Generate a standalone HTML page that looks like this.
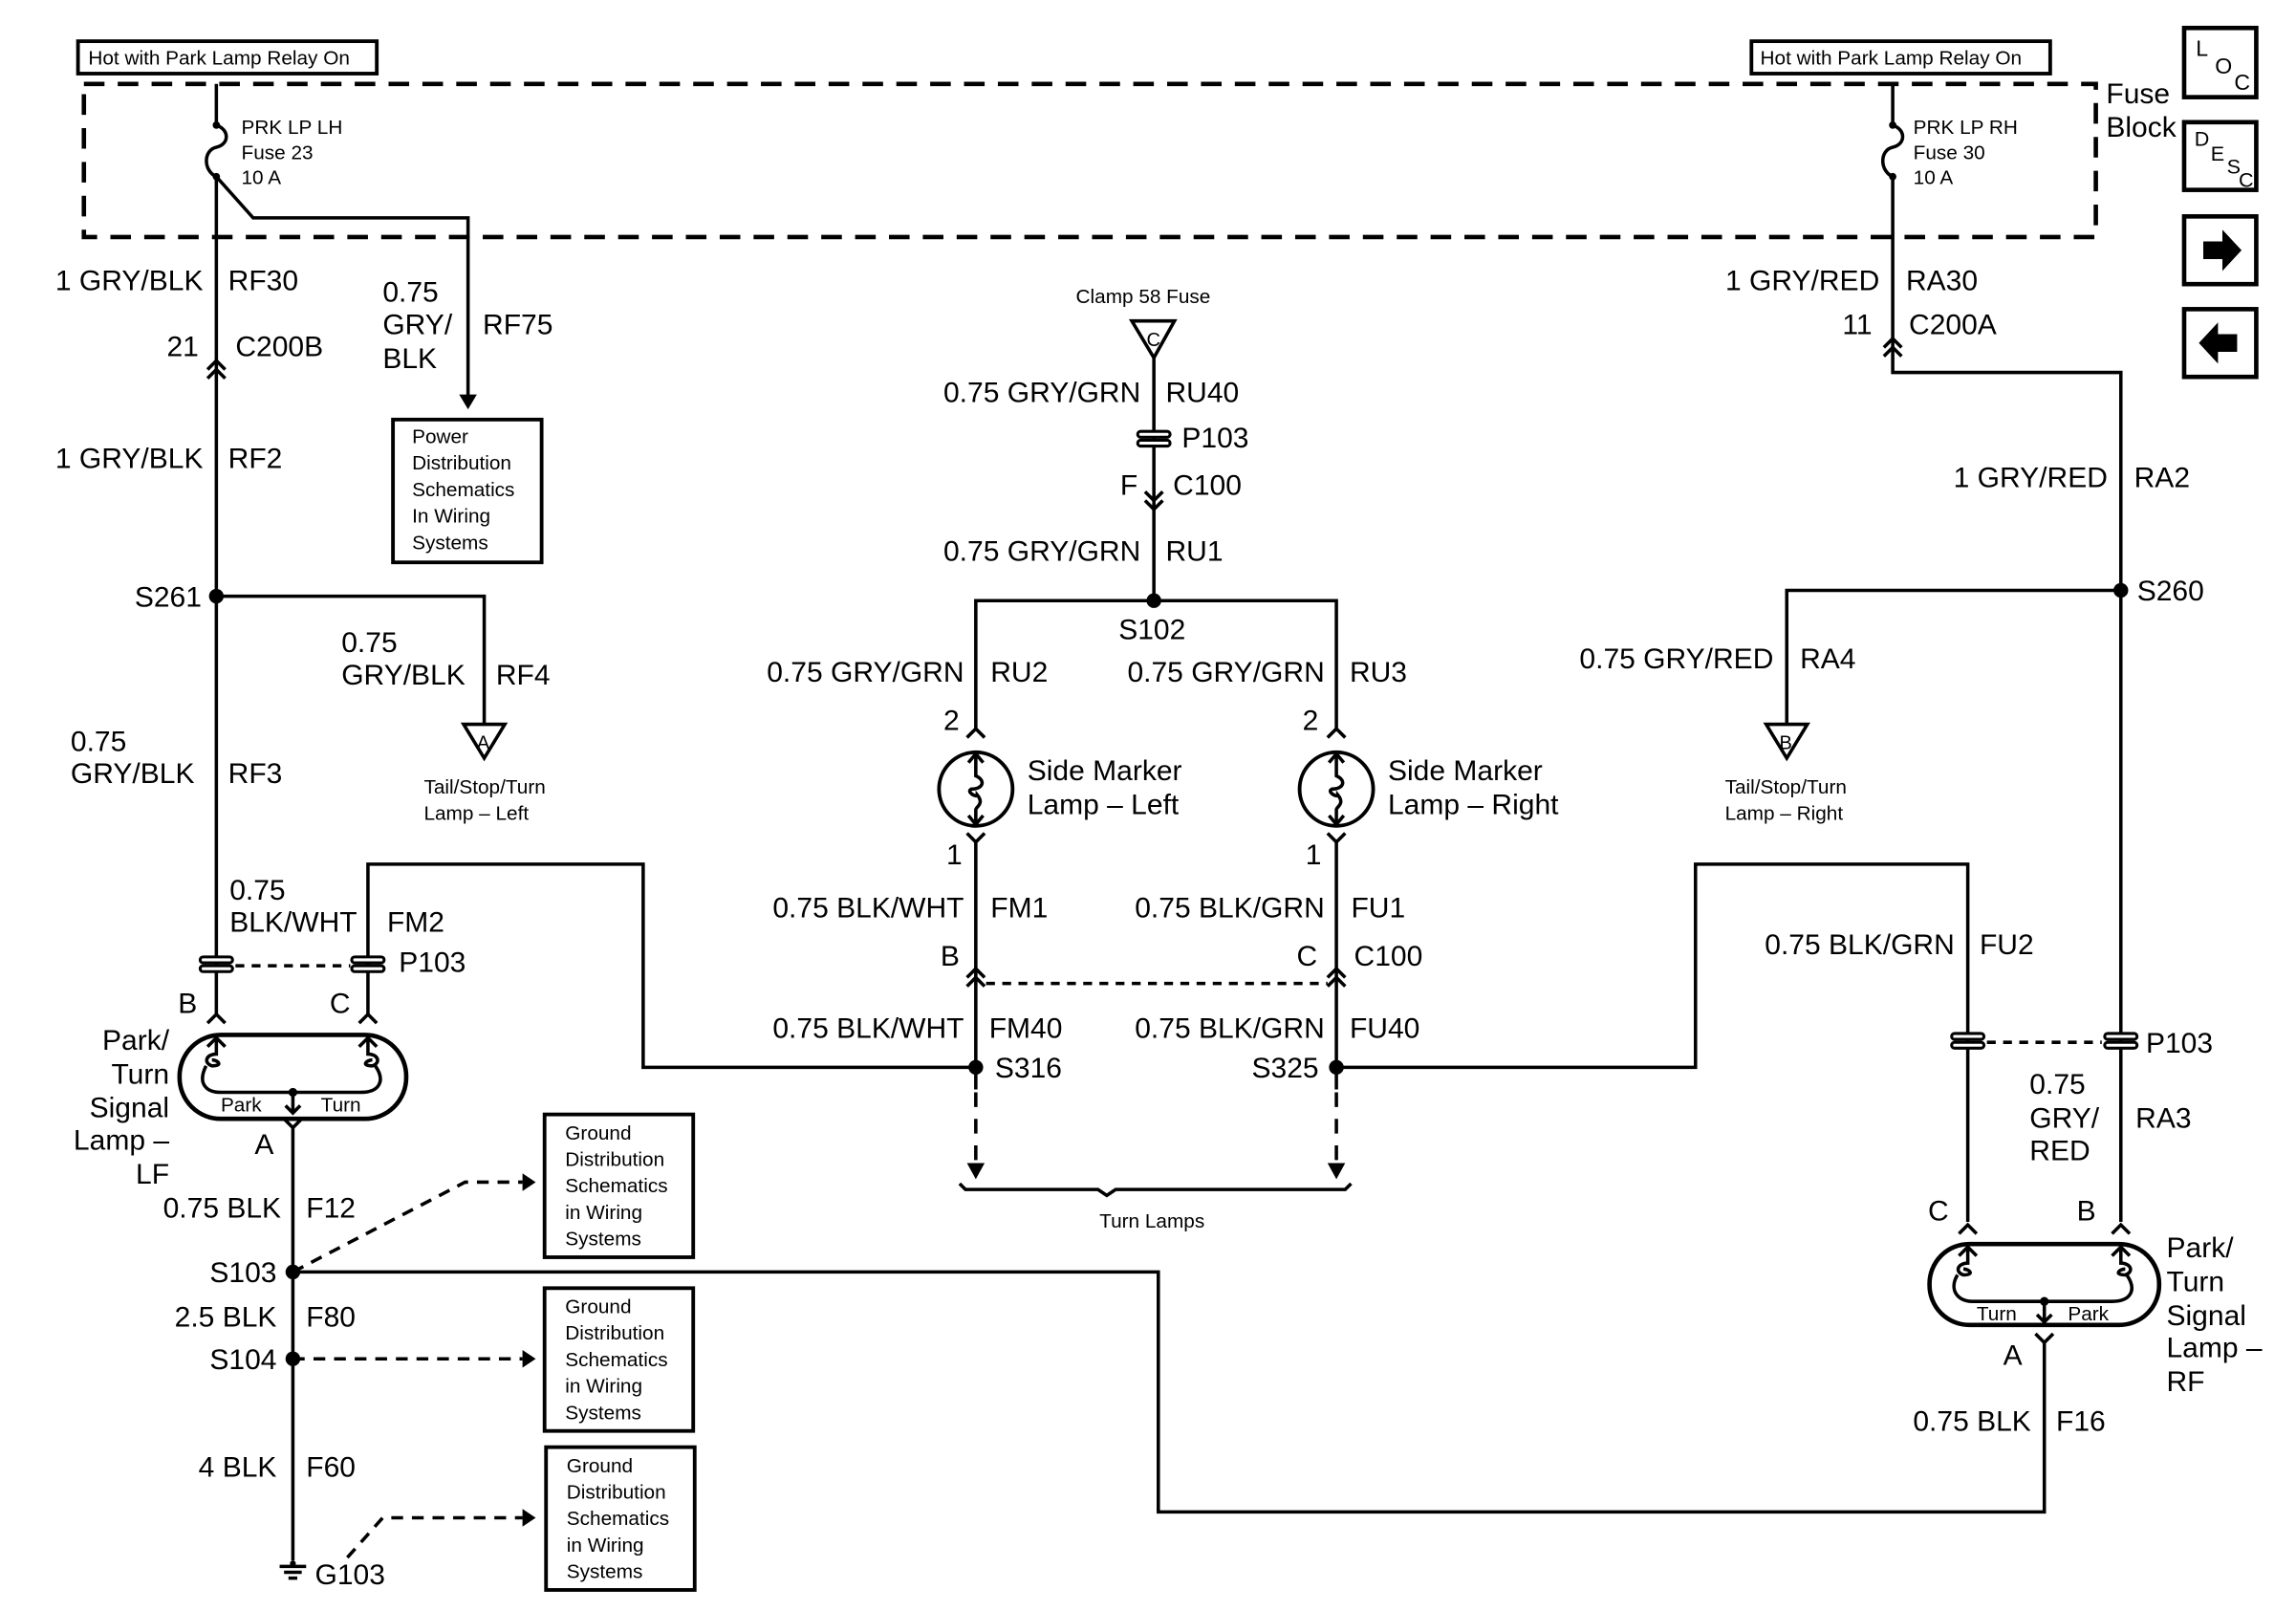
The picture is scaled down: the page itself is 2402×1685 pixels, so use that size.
<!DOCTYPE html>
<html><head><meta charset="utf-8"><style>
html,body{margin:0;padding:0;background:#fff;}
svg{display:block;}
text{font-family:"Liberation Sans",Arial,sans-serif;fill:#000;}
.b{font-size:19.5px;}
.s{font-size:13.5px;}
.r{text-anchor:end;}
</style></head><body>
<svg width="2402" height="1685" viewBox="0 0 1560 1094.3" preserveAspectRatio="none" xmlns="http://www.w3.org/2000/svg">
<g fill="none" stroke="#000" stroke-width="2.3">
<rect x="53" y="28" width="203" height="22" stroke-width="2.5"/>
<rect x="1190" y="28" width="203" height="22" stroke-width="2.5"/>
<rect x="57" y="57" width="1367" height="104" stroke-width="3" stroke-dasharray="14,9"/>
<rect x="1484" y="19" width="49" height="47" stroke-width="3"/>
<rect x="1484" y="83" width="49" height="46" stroke-width="3"/>
<rect x="1484" y="147" width="49" height="46" stroke-width="3"/>
<rect x="1484" y="210" width="49" height="46" stroke-width="3"/>

<path d="M147,57 V85 C156,88 156,98 147,100 C138,102 138,116 147,120 V690"/>
<path d="M147,120 L172,148 H318 V272"/>
<rect x="267" y="285" width="101" height="97" stroke-width="2.5"/>
<path d="M141,251 L147,245 L153,251 M141,257 L147,251 L153,257"/>
<path d="M147,405 H329 V492"/>
<path d="M315,492 H343 L329,515 Z"/>
<path d="M250,690 V587 H437 V725 H663"/>
<path d="M160,656 H238" stroke-dasharray="6,5"/>
<rect x="122" y="703" width="154" height="57" rx="28" stroke-width="3"/>
<path d="M141,695 L147,689 L153,695 M244,695 L250,689 L256,695"/>
<path d="M147,703 V716 C140,716 138,722 144,724 C152,724 148,720 144,720 M140,724 C134,736 140,742 150,742 H245 C258,742 262,734 255,724 M250,703 V716 C257,716 259,722 253,724 C245,724 249,720 253,720"/>
<path d="M141,711 L147,705 L153,711 M244,711 L250,705 L256,711"/>
<path d="M199,742 V756 M194,751 L199,756 L204,751"/>
<path d="M193,760 L199,766 L205,760 M199,766 V1060"/>
<path d="M199,864 H787 V1027 H1389 V912"/>
<path d="M199,864 L316,803 H355" stroke-dasharray="8,6"/>
<path d="M199,923 H355" stroke-dasharray="8,6"/>
<path d="M236,1058 L260,1031 H355" stroke-dasharray="8,6"/>
<rect x="370" y="757" width="101" height="97" stroke-width="2.5"/>
<rect x="370" y="875" width="101" height="97" stroke-width="2.5"/>
<rect x="371" y="983" width="101" height="97" stroke-width="2.5"/>
<path d="M190,1064 H208 M193,1068 H205 M196,1072 H202"/>

<path d="M769,218 H798 L784,243 Z"/>
<path d="M784,243 V408 M663,495 V408 H908 V495"/>
<path d="M778,334 L784,340 L790,334 M778,340 L784,346 L790,340"/>
<circle cx="663" cy="536" r="25" stroke-width="2.5"/>
<circle cx="908" cy="536" r="25" stroke-width="2.5"/>
<path d="M657,501 L663,495 L669,501 M902,501 L908,495 L914,501"/>
<path d="M663,513 V527 C670,530 668,536 660,536 C656,538 664,542 664,540 C669,546 663,548 663,550 V560 M658,518 L663,512 L668,518 M658,554 L663,560 L668,554"/>
<path d="M908,513 V527 C915,530 913,536 905,536 C901,538 909,542 909,540 C914,546 908,548 908,550 V560 M903,518 L908,512 L913,518 M903,554 L908,560 L913,554"/>
<path d="M657,566 L663,572 L669,566 M663,572 V740 M902,566 L908,572 L914,566 M908,572 V740"/>
<path d="M657,664 L663,658 L669,664 M657,670 L663,664 L669,670 M902,664 L908,658 L914,664 M902,670 L908,664 L914,670"/>
<path d="M670,668 H902" stroke-dasharray="6,5"/>
<path d="M908,725 H1152 V587 H1337 V830 M1286,57 V85 C1295,88 1295,98 1286,100 C1277,102 1277,116 1286,120 V253 H1441 V830"/>
<path d="M663,742 V790 M908,742 V790" stroke-dasharray="10,8"/>
<path d="M652,804 L656,808 H746 L752,812 L758,808 H914 L918,804"/>
<path d="M1280,236 L1286,230 L1292,236 M1280,242 L1286,236 L1292,242"/>
<path d="M1441,401 H1214 V492"/>
<path d="M1200,492 H1228 L1214,515 Z"/>
<path d="M1350,708 H1428" stroke-dasharray="6,5"/>
<rect x="1311" y="845" width="156" height="55" rx="27" stroke-width="3"/>
<path d="M1331,838 L1337,832 L1343,838 M1435,838 L1441,832 L1447,838"/>
<path d="M1337,845 V858 C1330,858 1328,864 1334,866 C1342,866 1338,862 1334,862 M1330,866 C1324,876 1330,884 1340,884 H1435 C1448,884 1452,876 1445,866 M1441,845 V858 C1448,858 1450,864 1444,866 C1436,866 1440,862 1444,862"/>
<path d="M1331,853 L1337,847 L1343,853 M1435,853 L1441,847 L1447,853"/>
<path d="M1389,884 V898 M1384,893 L1389,898 L1394,893"/>
<path d="M1383,906 L1389,912 L1395,906"/>
</g>
<g fill="#000">
<circle cx="147" cy="85" r="2.5"/><circle cx="147" cy="120" r="2.5"/>
<circle cx="1286" cy="85" r="2.5"/><circle cx="1286" cy="120" r="2.5"/>
<path d="M312,268 H324 L318,278 Z"/>
<path d="M355,797 L364,803 L355,809 Z M355,917 L364,923 L355,929 Z M355,1025 L364,1031 L355,1037 Z"/>
<path d="M657,790 H669 L663,801 Z M902,790 H914 L908,801 Z"/>
<circle cx="147" cy="405" r="5"/><circle cx="784" cy="408" r="5"/><circle cx="1441" cy="401" r="5"/>
<circle cx="663" cy="725" r="5"/><circle cx="908" cy="725" r="5"/>
<circle cx="199" cy="864" r="5"/><circle cx="199" cy="923" r="5"/>
<circle cx="199" cy="742" r="3"/><circle cx="1389" cy="884" r="3"/>
<circle cx="199" cy="1062" r="2"/>
<path d="M1497,164 H1510 V156 L1523,170 L1510,184 V176 H1497 Z"/>
<path d="M1520,227 H1507 V219 L1494,233 L1507,247 V239 H1520 Z"/>
</g>
<g fill="#fff" stroke="#000" stroke-width="2">
<rect x="136" y="650" width="22" height="4" rx="2"/><rect x="136" y="656" width="22" height="4" rx="2"/>
<rect x="239" y="650" width="22" height="4" rx="2"/><rect x="239" y="656" width="22" height="4" rx="2"/>
<rect x="773" y="293" width="22" height="4" rx="2"/><rect x="773" y="299" width="22" height="4" rx="2"/>
<rect x="1326" y="702" width="22" height="4" rx="2"/><rect x="1326" y="708" width="22" height="4" rx="2"/>
<rect x="1430" y="702" width="22" height="4" rx="2"/><rect x="1430" y="708" width="22" height="4" rx="2"/>
</g>
<text class="s" x="60" y="44">Hot with Park Lamp Relay On</text>
<text class="s" x="1196" y="44">Hot with Park Lamp Relay On</text>
<text class="b" x="1431" y="70">Fuse</text><text class="b" x="1431" y="93">Block</text>
<text x="1492" y="38" style="font-size:15px">L</text><text x="1505" y="50" style="font-size:15px">O</text><text x="1518" y="61" style="font-size:15px">C</text>
<text x="1491" y="99" style="font-size:14px">D</text><text x="1502" y="109" style="font-size:14px">E</text><text x="1513" y="118" style="font-size:14px">S</text><text x="1521" y="127" style="font-size:14px">C</text>
<text class="s" x="164" y="91">PRK LP LH</text><text class="s" x="164" y="108">Fuse 23</text><text class="s" x="164" y="125">10 A</text>
<text class="s" x="1300" y="91">PRK LP RH</text><text class="s" x="1300" y="108">Fuse 30</text><text class="s" x="1300" y="125">10 A</text>
<text class="b r" x="138" y="197">1 GRY/BLK</text><text class="b" x="155" y="197">RF30</text>
<text class="b" x="260" y="205">0.75</text><text class="b" x="260" y="227">GRY/</text><text class="b" x="260" y="250">BLK</text><text class="b" x="328" y="227">RF75</text>
<text class="b r" x="135" y="242">21</text><text class="b" x="160" y="242">C200B</text>
<text class="s" x="280" y="301">Power</text><text class="s" x="280" y="319">Distribution</text><text class="s" x="280" y="337">Schematics</text><text class="s" x="280" y="355">In Wiring</text><text class="s" x="280" y="373">Systems</text>
<text class="b r" x="138" y="318">1 GRY/BLK</text><text class="b" x="155" y="318">RF2</text>
<text class="b r" x="137" y="412">S261</text>
<text class="b" x="232" y="443">0.75</text><text class="b" x="232" y="465">GRY/BLK</text><text class="b" x="337" y="465">RF4</text>
<text x="324" y="509" style="font-size:13px">A</text><text x="1209" y="509" style="font-size:13px">B</text><text x="779" y="235" style="font-size:13px">C</text>
<text class="s" x="288" y="539">Tail/Stop/Turn</text><text class="s" x="288" y="557">Lamp – Left</text>
<text class="b" x="48" y="510">0.75</text><text class="b" x="48" y="532">GRY/BLK</text><text class="b" x="155" y="532">RF3</text>
<text class="b" x="156" y="611">0.75</text><text class="b" x="156" y="633">BLK/WHT</text><text class="b" x="263" y="633">FM2</text><text class="b" x="271" y="660">P103</text>
<text class="b" x="121" y="688">B</text><text class="b" x="224" y="688">C</text>
<text class="s" x="150" y="755">Park</text><text class="s" x="218" y="755">Turn</text>
<text class="b r" x="115" y="713">Park/</text><text class="b r" x="115" y="736">Turn</text><text class="b r" x="115" y="759">Signal</text><text class="b r" x="115" y="781">Lamp –</text><text class="b r" x="115" y="804">LF</text>
<text class="b" x="173" y="784">A</text>
<text class="b r" x="191" y="827">0.75 BLK</text><text class="b" x="208" y="827">F12</text>
<text class="b r" x="188" y="871">S103</text>
<text class="b r" x="188" y="901">2.5 BLK</text><text class="b" x="208" y="901">F80</text>
<text class="b r" x="188" y="930">S104</text>
<text class="b r" x="188" y="1003">4 BLK</text><text class="b" x="208" y="1003">F60</text>
<text class="b" x="214" y="1076">G103</text>
<text class="s" x="384" y="774">Ground</text><text class="s" x="384" y="792">Distribution</text><text class="s" x="384" y="810">Schematics</text><text class="s" x="384" y="828">in Wiring</text><text class="s" x="384" y="846">Systems</text>
<text class="s" x="384" y="892">Ground</text><text class="s" x="384" y="910">Distribution</text><text class="s" x="384" y="928">Schematics</text><text class="s" x="384" y="946">in Wiring</text><text class="s" x="384" y="964">Systems</text>
<text class="s" x="385" y="1000">Ground</text><text class="s" x="385" y="1018">Distribution</text><text class="s" x="385" y="1036">Schematics</text><text class="s" x="385" y="1054">in Wiring</text><text class="s" x="385" y="1072">Systems</text>
<text class="s" x="731" y="206">Clamp 58 Fuse</text>
<text class="b r" x="775" y="273">0.75 GRY/GRN</text><text class="b" x="792" y="273">RU40</text>
<text class="b" x="803" y="304">P103</text>
<text class="b r" x="773" y="336">F</text><text class="b" x="797" y="336">C100</text>
<text class="b r" x="775" y="381">0.75 GRY/GRN</text><text class="b" x="792" y="381">RU1</text>
<text class="b" x="760" y="434">S102</text>
<text class="b r" x="655" y="463">0.75 GRY/GRN</text><text class="b" x="673" y="463">RU2</text>
<text class="b r" x="900" y="463">0.75 GRY/GRN</text><text class="b" x="917" y="463">RU3</text>
<text class="b" x="641" y="496">2</text><text class="b" x="885" y="496">2</text>
<text class="b" x="698" y="530">Side Marker</text><text class="b" x="698" y="553">Lamp – Left</text>
<text class="b" x="943" y="530">Side Marker</text><text class="b" x="943" y="553">Lamp – Right</text>
<text class="b" x="643" y="587">1</text><text class="b" x="887" y="587">1</text>
<text class="b r" x="655" y="623">0.75 BLK/WHT</text><text class="b" x="673" y="623">FM1</text>
<text class="b r" x="900" y="623">0.75 BLK/GRN</text><text class="b" x="918" y="623">FU1</text>
<text class="b" x="639" y="656">B</text><text class="b" x="881" y="656">C</text><text class="b" x="920" y="656">C100</text>
<text class="b r" x="655" y="705">0.75 BLK/WHT</text><text class="b" x="672" y="705">FM40</text>
<text class="b r" x="900" y="705">0.75 BLK/GRN</text><text class="b" x="917" y="705">FU40</text>
<text class="b" x="676" y="732">S316</text><text class="b r" x="896" y="732">S325</text>
<text class="s" x="747" y="834">Turn Lamps</text>
<text class="b r" x="1277" y="197">1 GRY/RED</text><text class="b" x="1295" y="197">RA30</text>
<text class="b r" x="1272" y="227">11</text><text class="b" x="1297" y="227">C200A</text>
<text class="b r" x="1432" y="331">1 GRY/RED</text><text class="b" x="1450" y="331">RA2</text>
<text class="b" x="1452" y="408">S260</text>
<text class="b r" x="1205" y="454">0.75 GRY/RED</text><text class="b" x="1223" y="454">RA4</text>
<text class="s" x="1172" y="539">Tail/Stop/Turn</text><text class="s" x="1172" y="557">Lamp – Right</text>
<text class="b r" x="1328" y="648">0.75 BLK/GRN</text><text class="b" x="1345" y="648">FU2</text>
<text class="b" x="1458" y="715">P103</text>
<text class="b" x="1379" y="743">0.75</text><text class="b" x="1379" y="766">GRY/</text><text class="b" x="1379" y="788">RED</text><text class="b" x="1451" y="766">RA3</text>
<text class="b" x="1310" y="829">C</text><text class="b" x="1411" y="829">B</text>
<text class="s" x="1343" y="897">Turn</text><text class="s" x="1405" y="897">Park</text>
<text class="b" x="1472" y="854">Park/</text><text class="b" x="1472" y="877">Turn</text><text class="b" x="1472" y="900">Signal</text><text class="b" x="1472" y="922">Lamp –</text><text class="b" x="1472" y="945">RF</text>
<text class="b" x="1361" y="927">A</text>
<text class="b r" x="1380" y="972">0.75 BLK</text><text class="b" x="1397" y="972">F16</text>
</svg>
</body></html>
